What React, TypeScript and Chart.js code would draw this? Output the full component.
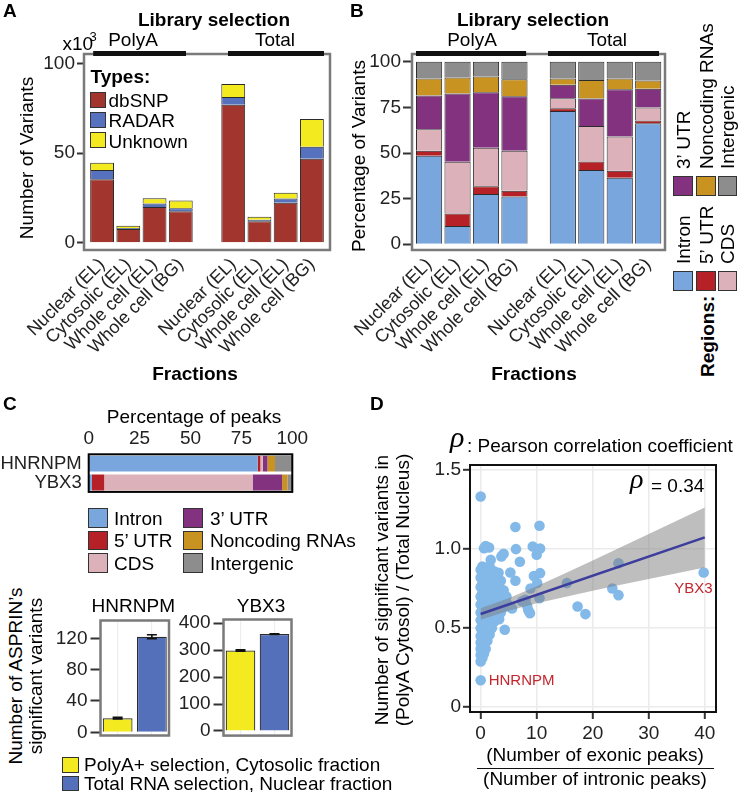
import React, { useEffect, useRef } from "react";
import { Chart, registerables } from "chart.js";
Chart.register(...registerables);

const FONT = "'Liberation Sans', Arial, Helvetica, sans-serif";
const SERIF = "'Liberation Serif', 'DejaVu Serif', serif";
Chart.defaults.font.family = FONT;
Chart.defaults.font.size = 19;
Chart.defaults.color = "#222";

// ---------------- DATA ----------------
const fractions = ["Nuclear (EL)", "Cytosolic (EL)", "Whole cell (EL)", "Whole cell (BG)"];
const libraries = ["PolyA", "Total"];
const barLabels = [...fractions, ...fractions];

// Panel A: number of variants (x10^3)
const variantTypes = ["dbSNP", "RADAR", "Unknown"];
const dbSNPCounts = [35.5, 7.7, 20.0, 17.6, 77.0, 12.0, 22.4, 46.9];
const radarCounts = [5.1, 0.5, 1.9, 1.7, 4.3, 0.9, 2.3, 6.7];
const unknownCounts = [4.1, 1.3, 3.0, 4.3, 7.3, 1.7, 3.2, 15.4];
const variantTicks = [0, 50, 100];

// Panel B: percentage of variants by region
const regionNames = ["Intron", "5’ UTR", "CDS", "3’ UTR", "Noncoding RNAs", "Intergenic"];
const intronPct = [48.5, 10.0, 27.5, 26.2, 73.1, 40.7, 36.4, 66.3];
const utr5Pct = [2.8, 6.8, 4.2, 3.1, 1.4, 4.7, 3.9, 1.5];
const cdsPct = [11.7, 28.4, 21.2, 22.0, 5.5, 19.4, 18.7, 7.1];
const utr3Pct = [18.5, 37.4, 30.4, 29.8, 7.4, 15.1, 26.0, 10.4];
const noncodingPct = [9.3, 8.8, 8.6, 9.4, 3.4, 10.2, 5.8, 4.4];
const intergenicPct = [9.2, 8.6, 8.1, 9.5, 9.2, 9.9, 9.2, 10.3];
const pctTicks = [0, 25, 50, 75, 100];

// Panel C: percentage of peaks
const peakGenes = ["HNRNPM", "YBX3"];
const hnrnpmPeakPct = [83.0, 1.3, 1.2, 2.3, 3.7, 8.5];
const ybx3PeakPct = [1.6, 6.0, 72.9, 14.5, 2.6, 2.4];
const peakTicks = [0, 25, 50, 75, 100];

// Panel C: ASPRIN significant variants
const selectionNames = ["PolyA+ selection, Cytosolic fraction", "Total RNA selection, Nuclear fraction"];
const hnrnpmSig = [18, 122];
const hnrnpmSigErr = [1, 2.5];
const ybx3Sig = [299, 360];
const ybx3SigErr = [2.5, 1.2];
const hnrnpmSigTicks = [0, 40, 80, 120];
const ybx3SigTicks = [0, 100, 200, 300, 400];

// Panel D: correlation scatter
const corrGenes = ["HNRNPM", "YBX3"];
const corrGeneX = [0, 39.8];
const corrGeneY = [0.171, 0.852];
const otherPoints: [number, number][] = [
  [0, 1.333], [6.2, 1.14], [10.5, 1.148], [6.3, 1.0], [9.3, 1.017], [10.6, 1.004], [10.0, 0.964],
  [4.1, 0.97], [3.7, 0.954], [7.0, 0.92], [5.3, 0.852], [6.2, 0.8], [9.5, 0.83], [10.6, 0.848],
  [10.1, 0.785], [8.9, 0.751], [10.5, 0.69], [8.8, 0.595], [8.3, 0.64], [8.0, 0.68], [7.4, 0.67],
  [8.5, 0.614], [15.4, 0.785], [17.3, 0.637], [18.7, 0.589], [23.5, 0.751], [24.6, 0.709],
  [24.6, 0.911], [4.3, 0.49], [3.3, 0.557], [4.4, 0.637], [1.8, 0.932], [0.6, 1.006], [1.5, 1.01],
  [0.9, 1.02], [5.6, 0.625], [4.7, 0.656], [2.6, 0.73],
  [0, 0.29], [0, 0.33], [0, 0.37], [0, 0.41], [0, 0.45], [0, 0.5], [0, 0.55], [0, 0.6], [0, 0.65],
  [0, 0.7], [0, 0.76], [0, 0.82], [0, 0.87],
  [0.3, 0.31], [0.3, 0.35], [0.3, 0.39], [0.3, 0.43], [0.3, 0.47], [0.3, 0.52], [0.3, 0.57],
  [0.3, 0.62], [0.3, 0.67], [0.3, 0.72], [0.3, 0.78], [0.3, 0.84], [0.3, 0.89],
  [0.6, 0.34], [0.6, 0.38], [0.6, 0.42], [0.6, 0.48], [0.6, 0.53], [0.6, 0.58], [0.6, 0.63],
  [0.6, 0.68], [0.6, 0.74], [0.6, 0.8], [0.6, 0.86],
  [0.9, 0.37], [0.9, 0.44], [0.9, 0.5], [0.9, 0.55], [0.9, 0.6], [0.9, 0.66], [0.9, 0.71],
  [0.9, 0.77], [0.9, 0.83], [0.9, 0.88],
  [1.2, 0.42], [1.2, 0.47], [1.2, 0.53], [1.2, 0.59], [1.2, 0.64], [1.2, 0.69], [1.2, 0.75],
  [1.2, 0.81], [1.2, 0.86],
  [1.6, 0.46], [1.6, 0.52], [1.6, 0.57], [1.6, 0.62], [1.6, 0.68], [1.6, 0.73], [1.6, 0.79],
  [1.6, 0.84], [1.6, 0.89],
  [2.0, 0.5], [2.0, 0.55], [2.0, 0.61], [2.0, 0.66], [2.0, 0.72], [2.0, 0.78], [2.0, 0.83],
  [2.4, 0.54], [2.4, 0.6], [2.4, 0.65], [2.4, 0.71], [2.4, 0.76], [2.4, 0.82], [2.4, 0.86],
  [2.8, 0.57], [2.8, 0.64], [2.8, 0.7], [2.8, 0.75], [2.8, 0.8], [2.8, 0.84],
  [3.2, 0.62], [3.2, 0.69], [3.2, 0.73], [3.2, 0.78], [3.2, 0.85],
  [3.6, 0.6], [3.6, 0.66], [3.6, 0.72], [3.6, 0.8],
  [4.1, 0.68], [4.1, 0.74], [4.6, 0.7],
];
const fitX = [0, 40];
const fitY = [0.59, 1.074];
const bandX = [0, 5, 10, 15, 20, 25, 30, 35, 40];
const bandLow = [0.554, 0.611, 0.657, 0.698, 0.736, 0.774, 0.811, 0.848, 0.884];
const bandHigh = [0.626, 0.689, 0.765, 0.846, 0.928, 1.012, 1.095, 1.18, 1.264];
const ratioXTicks = [0, 10, 20, 30, 40];
const ratioYTicks = [0, 0.5, 1, 1.5];
const pearsonRho = "0.34";

// ---------------- STYLE ----------------
const typeColors = ["#A2362F", "#5672BE", "#F3EA1F"];
const regionColors = ["#7AA6DE", "#B52127", "#DCB1B9", "#83327F", "#C99322", "#8D8D8D"];
const selectionColors = ["#F3EA1F", "#5470BA"];
const geneLabelStyle: Record<string, { align: CanvasTextAlign; dx: number; dy: number }> = {
  HNRNPM: { align: "left", dx: 8, dy: 1 },
  YBX3: { align: "right", dx: 9, dy: 16 },
};

// ---------------- HELPERS ----------------
const setTicks = (vals: number[]) => (s: any) => {
  s.ticks = vals.map((v) => ({ value: v }));
};
const fixW = (w: number) => (s: any) => {
  s.width = w;
};
const fixH = (h: number) => (s: any) => {
  s.height = h;
};

const boxPlugin = (color: string, lw: number) => ({
  id: "box",
  afterDraw(chart: any) {
    const { ctx, chartArea: a } = chart;
    ctx.save();
    ctx.strokeStyle = color;
    ctx.lineWidth = lw;
    ctx.strokeRect(a.left, a.top, a.right - a.left, a.bottom - a.top);
    ctx.restore();
  },
});

const stripPlugin = (spans: [number, number][]) => ({
  id: "strips",
  afterDraw(chart: any) {
    const { ctx, chartArea, scales } = chart;
    ctx.save();
    ctx.fillStyle = "#111";
    for (const [a, b] of spans) {
      const x0 = scales.x.getPixelForValue(a);
      const x1 = scales.x.getPixelForValue(b);
      ctx.fillRect(x0, chartArea.top - 3, x1 - x0, 5);
    }
    ctx.restore();
  },
});

const errPlugin = (vals: number[], errs: number[]) => ({
  id: "err",
  afterDatasetsDraw(chart: any) {
    const { ctx } = chart;
    const meta = chart.getDatasetMeta(0);
    const ys = chart.scales.y;
    ctx.save();
    ctx.strokeStyle = "#111";
    ctx.lineWidth = 1.6;
    meta.data.forEach((bar: any, i: number) => {
      const x = bar.x;
      const y0 = ys.getPixelForValue(vals[i] - errs[i]);
      const y1 = ys.getPixelForValue(vals[i] + errs[i]);
      ctx.beginPath();
      ctx.moveTo(x, y0);
      ctx.lineTo(x, y1);
      ctx.moveTo(x - 5, y0);
      ctx.lineTo(x + 5, y0);
      ctx.moveTo(x - 5, y1);
      ctx.lineTo(x + 5, y1);
      ctx.stroke();
    });
    ctx.restore();
  },
});

const geneLabelPlugin = {
  id: "geneLabels",
  afterDatasetsDraw(chart: any) {
    const { ctx, scales } = chart;
    ctx.save();
    ctx.font = `15px ${FONT}`;
    ctx.fillStyle = "#C4262E";
    ctx.textBaseline = "middle";
    corrGenes.forEach((g, i) => {
      const px = scales.x.getPixelForValue(corrGeneX[i]);
      const py = scales.y.getPixelForValue(corrGeneY[i]);
      const st = geneLabelStyle[g];
      ctx.textAlign = st.align;
      ctx.fillText(g, px + st.dx, py + st.dy);
    });
    ctx.restore();
  },
};

const groupPositions = (gap: number) => barLabels.map((_, i) => (i < 4 ? i + 1 : i + 1 + gap));

function stackedBars(p: {
  gap: number;
  series: number[][];
  names: string[];
  colors: string[];
  yTicks: number[];
  xMin: number;
  xMax: number;
  yMin: number;
  yMax: number;
  padding: any;
  tickLen: number;
  strips: [number, number][];
  barPct: number;
}) {
  const pos = groupPositions(p.gap);
  return {
    type: "bar",
    data: {
      datasets: p.series.map((vals, k) => ({
        label: p.names[k],
        data: vals.map((v, i) => ({ x: pos[i], y: v })),
        backgroundColor: p.colors[k],
        borderColor: "#2b2b2b",
        borderWidth: 1,
        barPercentage: p.barPct,
        categoryPercentage: 1,
      })),
    },
    options: {
      animation: false,
      responsive: false,
      devicePixelRatio: 1,
      layout: { padding: p.padding },
      plugins: { legend: { display: false }, tooltip: { enabled: false } },
      scales: {
        x: {
          type: "linear",
          offset: false,
          stacked: true,
          min: p.xMin,
          max: p.xMax,
          afterBuildTicks: setTicks(pos),
          ticks: {
            autoSkip: false,
            minRotation: 45,
            maxRotation: 45,
            padding: 4,
            font: { size: 18 },
            callback: (v: any) => {
              const idx = pos.findIndex((q) => Math.abs(q - Number(v)) < 1e-6);
              return idx >= 0 ? barLabels[idx] : "";
            },
          },
          grid: { display: false, drawTicks: false },
          border: { display: false },
          afterFit: fixH(130),
        },
        y: {
          stacked: true,
          min: p.yMin,
          max: p.yMax,
          afterBuildTicks: setTicks(p.yTicks),
          ticks: { padding: 2 },
          grid: { drawOnChartArea: false, drawTicks: true, tickLength: p.tickLen, tickColor: "#333", tickWidth: 2 },
          border: { display: false },
          afterFit: fixW(60),
        },
      },
    },
    plugins: [boxPlugin("#7a7a7a", 2.5), stripPlugin(p.strips)],
  };
}

const configA = () =>
  stackedBars({
    gap: 1,
    series: [dbSNPCounts, radarCounts, unknownCounts],
    names: variantTypes,
    colors: typeColors,
    yTicks: variantTicks,
    xMin: 0.31,
    xMax: 9.69,
    yMin: -4.0,
    yMax: 105.3,
    padding: { left: 24, right: 15, top: 54, bottom: 10 },
    tickLen: 7,
    strips: [
      [0.66, 4.2],
      [5.8, 9.46],
    ],
    barPct: 0.91,
  });

const configB = () =>
  stackedBars({
    gap: 0.7,
    series: [intronPct, utr5Pct, cdsPct, utr3Pct, noncodingPct, intergenicPct],
    names: regionNames,
    colors: regionColors,
    yTicks: pctTicks,
    xMin: 0.4,
    xMax: 9.29,
    yMin: -3.2,
    yMax: 104.3,
    padding: { left: 17, right: 15, top: 54, bottom: 10 },
    tickLen: 9,
    strips: [
      [0.54, 4.41],
      [5.18, 9.08],
    ],
    barPct: 0.92,
  });

const configPeaks = () => ({
  type: "bar",
  data: {
    labels: peakGenes,
    datasets: regionNames.map((r, k) => ({
      label: r,
      data: [hnrnpmPeakPct[k], ybx3PeakPct[k]],
      backgroundColor: regionColors[k],
      borderWidth: 0,
      barPercentage: 0.84,
      categoryPercentage: 1,
    })),
  },
  options: {
    indexAxis: "y",
    animation: false,
    responsive: false,
    devicePixelRatio: 1,
    layout: { padding: { left: 0, right: 37.7, top: 44.3, bottom: 8.3 } },
    plugins: { legend: { display: false }, tooltip: { enabled: false } },
    scales: {
      x: {
        position: "top",
        stacked: true,
        min: 0,
        max: 100,
        afterBuildTicks: setTicks(peakTicks),
        ticks: { padding: 4 },
        grid: { display: false, drawTicks: false },
        border: { display: false },
        afterFit: fixH(30),
      },
      y: {
        stacked: true,
        ticks: { padding: 7, autoSkip: false, font: { size: 18.5 } },
        grid: { display: false, drawTicks: false },
        border: { display: false },
        afterFit: fixW(88.7),
      },
    },
  },
  plugins: [boxPlugin("#000", 2)],
});

const sigConfig = (vals: number[], errs: number[], ticks: number[], yMin: number, yMax: number, padding: any) => () => ({
  type: "bar",
  data: {
    labels: selectionNames,
    datasets: [
      {
        data: vals,
        backgroundColor: selectionColors,
        borderColor: "#2b2b2b",
        borderWidth: 1.2,
        barPercentage: 0.87,
        categoryPercentage: 1,
      },
    ],
  },
  options: {
    animation: false,
    responsive: false,
    devicePixelRatio: 1,
    layout: { padding },
    plugins: { legend: { display: false }, tooltip: { enabled: false } },
    scales: {
      x: {
        ticks: { display: false },
        grid: { display: true, offset: false, drawTicks: false, color: "#EEEEEE", lineWidth: 1.2 },
        border: { display: false },
        afterFit: fixH(0),
      },
      y: {
        min: yMin,
        max: yMax,
        afterBuildTicks: setTicks(ticks),
        ticks: { padding: 3, autoSkip: false },
        grid: { drawOnChartArea: false, drawTicks: true, tickLength: 10, tickColor: "#333", tickWidth: 2 },
        border: { display: false },
        afterFit: fixW(55),
      },
    },
  },
  plugins: [errPlugin(vals, errs), boxPlugin("#7a7a7a", 2.5)],
});

const configD = () => {
  const pts = otherPoints.map(([x, y]) => ({ x, y })).concat(corrGeneX.map((x, i) => ({ x, y: corrGeneY[i] })));
  const gridOpt = { color: "#EBEBEB", lineWidth: 1.6, drawTicks: true, tickLength: 7, tickColor: "#333", tickWidth: 2 };
  return {
    type: "scatter",
    data: {
      datasets: [
        {
          type: "line",
          label: "fit",
          data: fitX.map((x, i) => ({ x, y: fitY[i] })),
          borderColor: "#3D3D9E",
          borderWidth: 2.5,
          pointRadius: 0,
          fill: false,
          order: 0,
        },
        {
          type: "line",
          label: "ciHigh",
          data: bandX.map((x, i) => ({ x, y: bandHigh[i] })),
          borderColor: "transparent",
          pointRadius: 0,
          fill: "+1",
          backgroundColor: "rgba(125,125,125,0.5)",
          order: 1,
        },
        {
          type: "line",
          label: "ciLow",
          data: bandX.map((x, i) => ({ x, y: bandLow[i] })),
          borderColor: "transparent",
          pointRadius: 0,
          fill: false,
          order: 2,
        },
        {
          label: "genes",
          data: pts,
          backgroundColor: "#83B9E8",
          pointBackgroundColor: "#83B9E8",
          pointBorderWidth: 0,
          borderWidth: 0,
          pointRadius: 5.3,
          order: 3,
        },
      ],
    },
    options: {
      animation: false,
      responsive: false,
      devicePixelRatio: 1,
      layout: { padding: { left: 45, right: 24, top: 45, bottom: 8 } },
      plugins: { legend: { display: false }, tooltip: { enabled: false } },
      scales: {
        x: {
          type: "linear",
          min: -1.9,
          max: 42,
          afterBuildTicks: setTicks(ratioXTicks),
          ticks: { padding: 3, autoSkip: false, callback: (v: any) => String(v) },
          grid: gridOpt,
          border: { display: false },
          afterFit: fixH(35),
        },
        y: {
          type: "linear",
          min: -0.03,
          max: 1.532,
          afterBuildTicks: setTicks(ratioYTicks),
          ticks: { padding: 2, autoSkip: false, callback: (v: any) => (Number(v) === 0 ? "0" : Number(v).toFixed(1)) },
          grid: gridOpt,
          border: { display: false },
          afterFit: fixW(55),
        },
      },
    },
    plugins: [geneLabelPlugin, boxPlugin("#111", 2)],
  };
};

// ---------------- COMPONENTS ----------------
function ChartCanvas({ left, top, width, height, make }: { left: number; top: number; width: number; height: number; make: () => any }) {
  const ref = useRef<HTMLCanvasElement | null>(null);
  useEffect(() => {
    if (!ref.current) return;
    const chart = new Chart(ref.current, make());
    return () => chart.destroy();
  }, []);
  return <canvas ref={ref} width={width} height={height} style={{ position: "absolute", left, top, width, height }} />;
}

type TxtProps = {
  x: number;
  y: number;
  text: string;
  size?: number;
  bold?: boolean;
  italic?: boolean;
  align?: "left" | "center" | "right";
  rot?: number;
  color?: string;
  serif?: boolean;
  center?: boolean;
};
function Txt({ x, y, text, size = 19, bold = false, italic = false, align = "left", rot = 0, color = "#000", serif = false, center = false }: TxtProps) {
  const cy = center || rot !== 0 ? y : y - 0.3465 * size;
  const tx = align === "left" ? "0%" : align === "right" ? "-100%" : "-50%";
  return (
    <div
      style={{
        position: "absolute",
        left: x,
        top: cy,
        width: 0,
        height: 0,
        transform: rot ? `rotate(${rot}deg)` : undefined,
        transformOrigin: "0 0",
      }}
    >
      <div
        style={{
          position: "absolute",
          left: 0,
          top: 0,
          transform: `translate(${tx}, -50%)`,
          whiteSpace: "nowrap",
          fontSize: size,
          lineHeight: 1,
          fontFamily: serif ? SERIF : FONT,
          fontWeight: bold ? 700 : 400,
          fontStyle: italic ? "italic" : "normal",
          color,
        }}
      >
        {text}
      </div>
    </div>
  );
}

function Swatch({ x, y, w, h, c }: { x: number; y: number; w: number; h: number; c: string }) {
  return (
    <div
      style={{
        position: "absolute",
        left: x,
        top: y,
        width: w,
        height: h,
        background: c,
        border: "1px solid #333",
        boxSizing: "border-box",
      }}
    />
  );
}

export default function App() {
  const bColsX = [673, 696, 717.5];
  const bColsText = [682.5, 705.5, 727];
  return (
    <div
      style={{
        position: "absolute",
        left: 0,
        top: 0,
        width: 740,
        height: 792,
        background: "#fff",
        overflow: "hidden",
        fontFamily: FONT,
      }}
    >
      <ChartCanvas left={0} top={0} width={345} height={390} make={configA} />
      <ChartCanvas left={335} top={0} width={345} height={390} make={configB} />
      <ChartCanvas left={0} top={380} width={330} height={130} make={configPeaks} />
      <ChartCanvas
        left={40}
        top={600}
        width={140}
        height={150}
        make={sigConfig(hnrnpmSig, hnrnpmSigErr, hnrnpmSigTicks, -4.1, 142.7, { left: 5.5, right: 11, top: 20.5, bottom: 14.5 })}
      />
      <ChartCanvas
        left={165}
        top={600}
        width={140}
        height={150}
        make={sigConfig(ybx3Sig, ybx3SigErr, ybx3SigTicks, -17.2, 413.9, { left: 3.5, right: 13.5, top: 19.5, bottom: 13 })}
      />
      <ChartCanvas left={370} top={420} width={370} height={335} make={configD} />

      {/* Panel letters */}
      <Txt x={3} y={17} text="A" bold />
      <Txt x={350} y={17} text="B" bold />
      <Txt x={3} y={410} text="C" bold />
      <Txt x={370} y={410} text="D" bold />

      {/* Panel A */}
      <Txt x={214} y={26} text="Library selection" bold align="center" />
      <Txt x={62.5} y={50} text="x10" />
      <Txt x={89.5} y={41} text="3" size={13} />
      <Txt x={133} y={45.5} text={libraries[0]} align="center" />
      <Txt x={275} y={45.5} text={libraries[1]} align="center" />
      <Txt x={26} y={158} text="Number of Variants" rot={-90} align="center" />
      <Txt x={90.5} y={83} text="Types:" bold />
      {variantTypes.map((t, i) => (
        <React.Fragment key={t}>
          <Swatch x={89.5} y={92.3 + i * 20} w={16.5} h={16} c={typeColors[i]} />
          <Txt x={108.5} y={106.5 + i * 20.5} text={t} />
        </React.Fragment>
      ))}
      <Txt x={195} y={380} text="Fractions" bold align="center" />

      {/* Panel B */}
      <Txt x={533} y={26} text="Library selection" bold align="center" />
      <Txt x={472} y={45.5} text={libraries[0]} align="center" />
      <Txt x={607} y={45.5} text={libraries[1]} align="center" />
      <Txt x={358} y={156} text="Percentage of Variants" rot={-90} align="center" />
      <Txt x={534} y={380} text="Fractions" bold align="center" />
      <Txt x={706.5} y={377} text="Regions:" bold rot={-90} align="left" />
      {regionNames.map((r, i) => {
        const col = i % 3;
        const bottomGroup = i < 3;
        return (
          <React.Fragment key={r}>
            <Swatch x={bColsX[col]} y={bottomGroup ? 271 : 176} w={19.5} h={19.5} c={regionColors[i]} />
            <Txt x={bColsText[col]} y={bottomGroup ? 264 : 168.5} text={r} rot={-90} align="left" />
          </React.Fragment>
        );
      })}

      {/* Panel C */}
      <Txt x={194} y={423} text="Percentage of peaks" align="center" />
      {regionNames.map((r, i) => {
        const col = i < 3 ? 0 : 1;
        const row = i % 3;
        const sy = 508 + row * 22.6;
        return (
          <React.Fragment key={"c" + r}>
            <Swatch x={col === 0 ? 88 : 183} y={sy} w={19.5} h={19.5} c={regionColors[i]} />
            <Txt x={col === 0 ? 114 : 210} y={sy + 9.75} text={r} center />
          </React.Fragment>
        );
      })}
      <Txt x={133.3} y={611.7} text={peakGenes[0]} align="center" />
      <Txt x={261} y={611.7} text={peakGenes[1]} align="center" />
      <Txt x={15} y={676} text="Number of ASPRIN’s" rot={-90} align="center" />
      <Txt x={34.5} y={676} text="significant variants" rot={-90} align="center" />
      {selectionNames.map((s, i) => (
        <React.Fragment key={s}>
          <Swatch x={62} y={757 + i * 18.5} w={16.5} h={15.5} c={selectionColors[i]} />
          <Txt x={84} y={771 + i * 18.5} text={s} />
        </React.Fragment>
      ))}

      {/* Panel D */}
      <Txt x={450} y={447} text="ρ" serif italic size={30} />
      <Txt x={467} y={452} text=": Pearson correlation coefficient" />
      <Txt x={630} y={489} text="ρ" serif italic size={28} />
      <Txt x={651} y={492} text={"= " + pearsonRho} />
      <Txt x={381} y={590} text="Number of significant variants in" rot={-90} align="center" />
      <Txt x={402} y={590} text="(PolyA Cytosol) / (Total Nucleus)" rot={-90} align="center" />
      <Txt x={595} y={761} text="(Number of exonic peaks)" align="center" />
      <div style={{ position: "absolute", left: 477, top: 767.5, width: 237, height: 1.6, background: "#111" }} />
      <Txt x={595} y={785} text="(Number of intronic peaks)" align="center" />
    </div>
  );
}
